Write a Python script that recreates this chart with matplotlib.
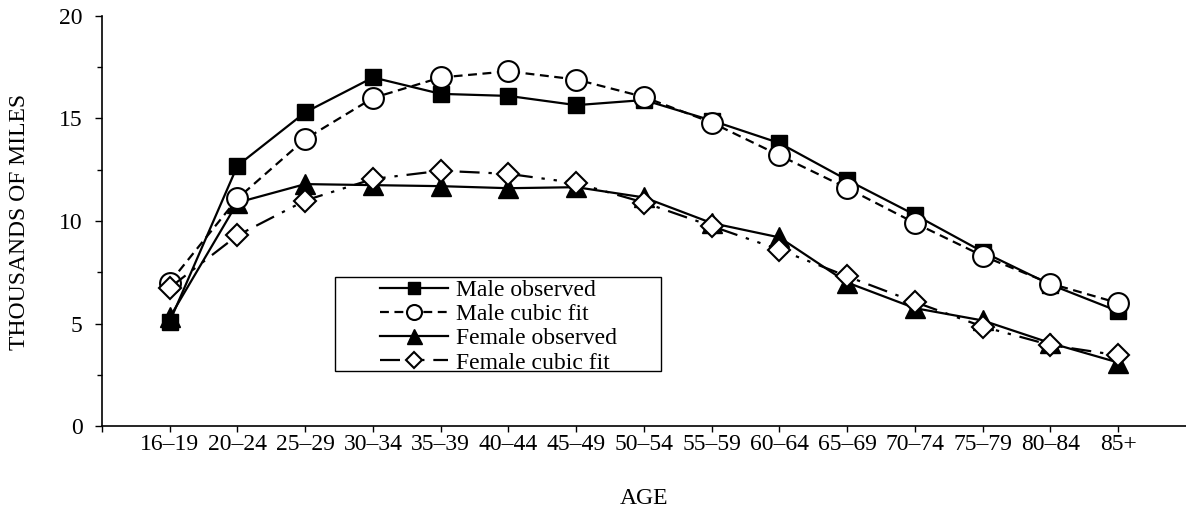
import numpy as np
import matplotlib
matplotlib.use('Agg')
import matplotlib.pyplot as plt
from matplotlib.ticker import MultipleLocator
from matplotlib.patches import Rectangle

plt.rcParams['font.family'] = ['Liberation Serif', 'DejaVu Serif']

# Average annual miles driven, by age group (thousands)
ages = ['16–19', '20–24', '25–29', '30–34', '35–39', '40–44', '45–49', '50–54',
        '55–59', '60–64', '65–69', '70–74', '75–79', '80–84', '85+']
male_observed = [5.1, 12.7, 15.3, 17.0, 16.2, 16.1, 15.65, 15.9, 14.9, 13.8, 12.0, 10.3, 8.5, 6.9, 5.6]
male_fit = [7.0, 11.1, 14.0, 16.0, 17.0, 17.3, 16.9, 16.05, 14.8, 13.2, 11.6, 9.9, 8.3, 6.95, 6.0]
female_observed = [5.3, 10.9, 11.8, 11.75, 11.7, 11.6, 11.65, 11.15, 9.9, 9.2, 7.0, 5.75, 5.15, 4.05, 3.1]
female_fit = [6.75, 9.3, 11.0, 12.05, 12.45, 12.3, 11.85, 10.9, 9.75, 8.6, 7.3, 6.05, 4.85, 3.95, 3.45]

x = np.arange(len(ages))
fs = 17

fig = plt.figure(figsize=(11.86, 5.14), dpi=100)
ax = fig.add_axes([0.086, 0.171, 0.914, 0.798])

lw = 1.6
ax.plot(x, male_observed, color='black', lw=lw, marker='s', ms=11.5,
        mfc='black', mec='black', label='Male observed', zorder=3)
ax.plot(x, male_fit, color='black', lw=lw, ls=(0, (4, 2.5)), marker='o', ms=15,
        mfc='white', mec='black', mew=1.5, label='Male cubic fit', zorder=4)
ax.plot(x, female_observed, color='black', lw=lw, marker='^', ms=15,
        mfc='black', mec='black', label='Female observed', zorder=3)
ax.plot(x, female_fit, color='black', lw=lw, ls=(0, (9, 4, 1.5, 4, 1.5, 4)), marker='D', ms=11,
        mfc='white', mec='black', mew=1.5, label='Female cubic fit', zorder=4)

ax.set_xlim(-1, 15)
ax.set_ylim(0, 20)
ax.set_xticks(x)
ax.set_xticklabels(ages, fontsize=fs)
ax.set_xticks([-1], minor=True)
ax.yaxis.set_major_locator(MultipleLocator(5))
ax.yaxis.set_minor_locator(MultipleLocator(2.5))
ax.tick_params(axis='y', which='major', labelsize=fs, length=5, width=1, pad=9)
ax.tick_params(axis='y', which='minor', length=3.6, width=1)
ax.tick_params(axis='x', which='both', length=4.5, width=1, pad=1)

for side in ['top', 'right']:
    ax.spines[side].set_visible(False)
for side in ['left', 'bottom']:
    ax.spines[side].set_linewidth(1.2)

# axis titles
fig.text(20 / 1186, 1 - 222 / 514, 'THOUSANDS OF MILES', rotation=90,
         ha='center', va='center', fontsize=fs)
fig.text(644 / 1186, 1 - 499 / 514, 'AGE', ha='center', va='center', fontsize=fs)

# legend box is wider than its contents, so draw the frame separately
box = Rectangle((0.2149, 0.1341), 0.3007, 0.2293, transform=ax.transAxes,
                facecolor='white', edgecolor='black', lw=1.0, zorder=5)
ax.add_patch(box)
leg = ax.legend(loc='center', bbox_to_anchor=(0.3658, 0.2427), fontsize=fs,
                handlelength=2.9, markerscale=0.72, frameon=False,
                borderpad=0, labelspacing=0.115, handletextpad=0.35, borderaxespad=0)
leg.set_zorder(6)

fig.savefig('out.png', dpi=100)
